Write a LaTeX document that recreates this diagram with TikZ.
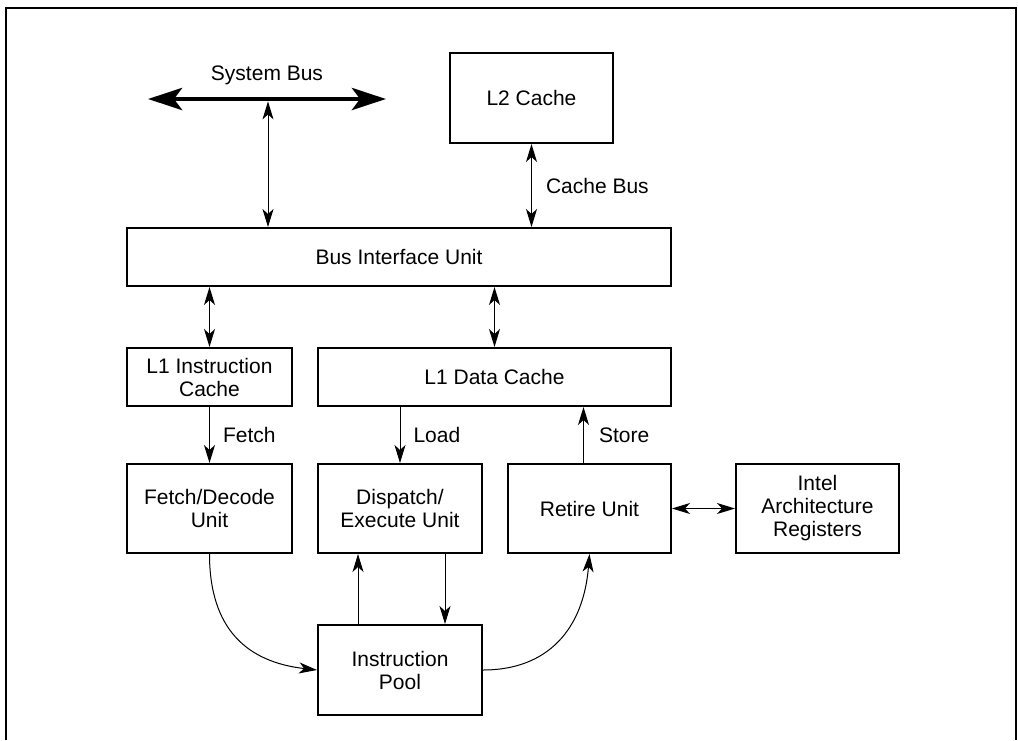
\documentclass[tikz,border=0pt]{standalone}
\usepackage{fontspec}
\setmainfont{Liberation Sans}
\usetikzlibrary{arrows.meta}
\tikzset{
    >={Stealth[length=9pt,width=5.5pt,inset=2.5pt]},
    unit/.style={draw,line width=1pt,align=center,inner sep=0pt,font=\fontsize{10.5}{11.5}\selectfont},
    wire/.style={<->,line width=0.5pt},
    flow/.style={->,line width=0.5pt},
    lbl/.style={inner sep=0pt,font=\fontsize{10.5}{11.5}\selectfont},
    bustip/.tip={Stealth[length=17pt,width=11pt,inset=4pt]}
}
\begin{document}
\begin{tikzpicture}[x=0.5pt,y=-0.5pt]
\useasboundingbox (0,0) rectangle (1018,740);
\draw[line width=1.2pt] (6,740) -- (6,8) -- (1016,8) -- (1016,740);

\node[unit,minimum width=81.5pt,minimum height=45pt] (l2) at (531.5,98) {L2 Cache};
\node[unit,minimum width=272pt,minimum height=29pt] (biu) at (399,257) {Bus Interface Unit};
\node[unit,minimum width=82.5pt,minimum height=29pt] (l1i) at (209.5,377) {L1 Instruction\\Cache};
\node[unit,minimum width=176.5pt,minimum height=29pt] (l1d) at (494.5,377) {L1 Data Cache};
\node[unit,minimum width=82.5pt,minimum height=44.5pt] (fetch) at (209.5,508.5) {Fetch/Decode\\Unit};
\node[unit,minimum width=82pt,minimum height=44.5pt] (disp) at (400,508.5) {Dispatch/\\Execute Unit};
\node[unit,minimum width=81.5pt,minimum height=44.5pt] (retire) at (589.5,508.5) {Retire Unit};
\node[unit,minimum width=81.5pt,minimum height=44.5pt] (regs) at (817.5,508.5) {Intel\\Architecture\\Registers};
\node[unit,minimum width=82pt,minimum height=45pt] (pool) at (400,670) {Instruction\\Pool};

\coordinate (busL) at (148,99);
\coordinate (busR) at (386,99);
\coordinate (busT) at (268,99);
\draw[line width=2.4pt,bustip-bustip] (busL) -- (busR) node[lbl,midway,above=6pt] {System Bus};
\draw[wire] ([yshift=-1.2pt]busT) -- (busT |- biu.north);
\draw[wire] (l2.south) -- (l2.south |- biu.north) node[lbl,midway,right=7pt] {Cache Bus};

\foreach \n in {l1i,l1d}
    \draw[wire] (\n.north |- biu.south) -- (\n.north);

\draw[flow] (l1i) -- (fetch) node[lbl,midway,right=6.5pt] {Fetch};
\draw[flow] (disp.north |- l1d.south) -- (disp.north) node[lbl,midway,right=6.5pt] {Load};
\draw[flow] ([xshift=-3pt]retire.north) -- ([xshift=-3pt]retire.north |- l1d.south) node[lbl,midway,right=7.5pt] {Store};
\draw[wire] (retire) -- (regs);

\draw[flow] ([xshift=-21pt]pool.north) -- ([xshift=-21pt]disp.south);
\draw[flow] ([xshift=22.5pt]disp.south) -- ([xshift=22.5pt]pool.north);
\draw[flow] (fetch.south) .. controls +(0,75) and +(-70,-8) .. (pool.west);
\draw[flow] (pool.east) .. controls +(65,0) and +(-6,75) .. (retire.south);
\end{tikzpicture}
\end{document}
